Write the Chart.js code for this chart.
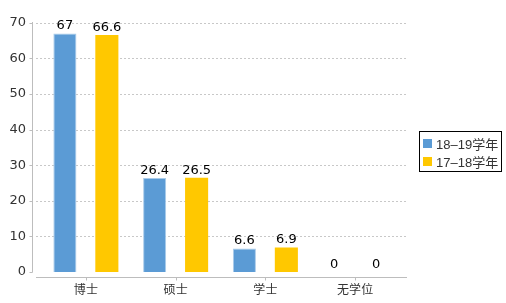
<!DOCTYPE html>
<html>
<head>
<meta charset="utf-8">
<script src="https://cdn.jsdelivr.net/npm/chart.js@4/dist/chart.umd.min.js"></script>
<style>
  html, body { margin: 0; padding: 0; background: #fff; }
  #wrap { position: relative; width: 506px; height: 303px; }
  #legend { position: absolute; left: 419px; top: 131px; width: 81px; border: 1px solid #000;
            font: 13px "Liberation Sans", "Noto Sans CJK SC", sans-serif; color: #333; padding: 2px 0 1px 0; white-space: nowrap; }
  .item { display: flex; align-items: center; height: 18px; padding-left: 3px; }
  .sw { width: 9px; height: 9px; margin-right: 4px; flex: none; }
</style>
</head>
<body>
<div id="wrap">
  <canvas id="c" width="506" height="303"></canvas>
  <div id="legend"></div>
</div>
<script>
const categories = ['博士', '硕士', '学士', '无学位'];
const series1Label = '18–19学年';
const series2Label = '17–18学年';
const series1Values = [67, 26.4, 6.6, 0];
const series2Values = [66.6, 26.5, 6.9, 0];
const yTicks = [0, 10, 20, 30, 40, 50, 60, 70];

const colors = ['#5B9BD5', '#FFC800'];
const borders = ['#A9CBEA', '#FFC800'];

const FONT = '"DejaVu Sans", sans-serif';

const decor = {
  id: 'decor',
  beforeDatasetsDraw(chart) {
    const ctx = chart.ctx, y = chart.scales.y, x = chart.scales.x;
    const a = chart.chartArea;
    ctx.save();
    ctx.strokeStyle = '#c8c8c8';
    ctx.lineWidth = 1;
    ctx.setLineDash([2, 2]);
    yTicks.forEach(v => {
      if (v === 0) return;
      const py = Math.round(y.getPixelForValue(v)) + 0.5;
      ctx.beginPath(); ctx.moveTo(a.left - 5, py); ctx.lineTo(a.right + 6, py); ctx.stroke();
    });
    ctx.setLineDash([]);
    ctx.strokeStyle = '#bdbdbd';
    const ax = a.left - 8.5;
    ctx.beginPath(); ctx.moveTo(ax, Math.round(y.getPixelForValue(70)) - 1); ctx.lineTo(ax, a.bottom + 0.5); ctx.stroke();
    yTicks.forEach(v => {
      const py = Math.round(y.getPixelForValue(v)) + 0.5;
      ctx.beginPath(); ctx.moveTo(ax - 3, py); ctx.lineTo(ax, py); ctx.stroke();
    });
    const by = a.bottom + 5.5;
    ctx.beginPath(); ctx.moveTo(a.left - 5, by); ctx.lineTo(a.right + 7, by); ctx.stroke();
    categories.forEach((c, i) => {
      const px = Math.round(x.getPixelForValue(i)) + 0.5;
      ctx.beginPath(); ctx.moveTo(px, by); ctx.lineTo(px, by + 3); ctx.stroke();
    });
    ctx.restore();
  },
  afterDatasetsDraw(chart) {
    const ctx = chart.ctx;
    ctx.save();
    ctx.font = '13px ' + FONT;
    ctx.fillStyle = '#000';
    ctx.textAlign = 'center';
    ctx.textBaseline = 'bottom';
    chart.data.datasets.forEach((ds, di) => {
      chart.getDatasetMeta(di).data.forEach((bar, i) => {
        ctx.fillText(String(ds.data[i]), bar.x, bar.y - 1);
      });
    });
    ctx.restore();
  }
};

const chart = new Chart(document.getElementById('c'), {
  type: 'bar',
  data: {
    labels: categories,
    datasets: [
      { label: series1Label, data: series1Values, backgroundColor: colors[0], borderColor: borders[0], borderWidth: 1 },
      { label: series2Label, data: series2Values, backgroundColor: colors[1], borderColor: borders[1], borderWidth: 0 }
    ]
  },
  options: {
    responsive: false,
    animation: false,
    events: [],
    layout: { padding: { left: 0, right: 106, top: 11, bottom: 0 } },
    datasets: { bar: { categoryPercentage: 0.935, barPercentage: 0.55 } },
    plugins: { legend: { display: false }, tooltip: { enabled: false } },
    scales: {
      x: {
        grid: { display: false, drawTicks: false },
        border: { display: false },
        ticks: { color: '#333', font: { family: '"Noto Sans CJK SC", sans-serif', size: 12 }, padding: 10, maxRotation: 0 },
        afterFit(s) { s.height = 31; }
      },
      y: {
        min: 0, max: 70,
        grid: { display: false, drawTicks: false },
        border: { display: false },
        ticks: { stepSize: 10, color: '#333', font: { family: FONT, size: 13 }, padding: 15 },
        afterFit(s) { s.width = 41; }
      }
    }
  },
  plugins: [decor]
});

const leg = document.getElementById('legend');
chart.data.datasets.forEach((ds, i) => {
  const d = document.createElement('div'); d.className = 'item';
  const sw = document.createElement('span'); sw.className = 'sw'; sw.style.background = colors[i];
  const t = document.createElement('span'); t.textContent = ds.label;
  d.appendChild(sw); d.appendChild(t); leg.appendChild(d);
});
</script>
</body>
</html>
